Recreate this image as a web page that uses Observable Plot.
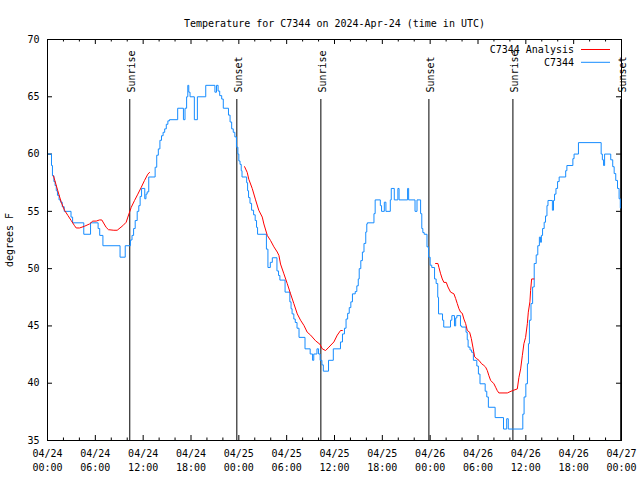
<!DOCTYPE html>
<html>
<head>
<meta charset="utf-8">
<script src="https://cdn.jsdelivr.net/npm/d3@7"></script>
<script src="https://cdn.jsdelivr.net/npm/@observablehq/plot@0.6"></script>
<style>
  html, body { margin: 0; padding: 0; background: #fff; }
</style>
</head>
<body>
<div id="chart"></div>
<script>
// ---- data (hours after 2024-04-24 00:00 UTC) ----
const titleText = "Temperature for C7344 on 2024-Apr-24 (time in UTC)";
const yLabel = "degrees F";
const legendLabels = ["C7344 Analysis", "C7344"];

const yTicks = [35, 40, 45, 50, 55, 60, 65, 70];
const xTickHours = [0, 6, 12, 18, 24, 30, 36, 42, 48, 54, 60, 66, 72];
const xTickDates = ["04/24", "04/24", "04/24", "04/24", "04/25", "04/25", "04/25", "04/25", "04/26", "04/26", "04/26", "04/26", "04/27"];
const xTickTimes = ["00:00", "06:00", "12:00", "18:00", "00:00", "06:00", "12:00", "18:00", "00:00", "06:00", "12:00", "18:00", "00:00"];

const sunLabels = ["Sunrise", "Sunset", "Sunrise", "Sunset", "Sunrise", "Sunset"];
const sunHours = [10.32, 23.75, 34.29, 47.84, 58.38, 71.9];

// observations (step readings): [hour, °F]
const obsPoints = [
  [0.05,60],[0.5,59],[0.62,58.1],[0.8,57.6],[0.95,57.25],[1.1,56.8],[1.25,56.4],[1.45,56.0],[1.65,55.8],[1.85,55.4],
  [2.1,55.0],[2.95,54.5],[3.15,54.0],[4.55,53.0],[5.4,54.0],[6.35,53.5],[6.55,52.9],[6.95,52.0],[9.1,51.0],[9.75,52.0],
  [10.4,52.5],[10.6,52.9],[10.8,53.5],[11.0,54.2],[11.25,55.0],[11.45,55.5],[11.62,56.3],[11.8,57.0],[12.2,56.1],[12.35,56.5],
  [12.5,56.7],[12.7,58.0],[13.5,58.85],[13.7,59.9],[13.9,60.45],[14.1,61.2],[14.3,61.6],[14.5,61.9],[14.7,62.2],[14.9,62.6],
  [15.1,62.9],[15.3,63.0],[16.33,64.0],[17.05,63.0],[17.25,64.0],[17.45,65.0],[17.6,66.0],[17.72,65.4],[17.88,65.0],[18.42,63.0],
  [18.8,65.0],[19.85,66.0],[21.0,65.4],[21.2,66.0],[21.4,65.5],[21.6,65.1],[21.85,64.8],[22.05,64.0],[22.7,63.4],[22.9,62.8],
  [23.1,62.2],[23.3,61.9],[23.5,61.5],[23.7,60.6],[23.88,60.0],[24.0,59.4],[24.15,59.1],[24.3,58.55],[24.4,58.0],[24.98,57.5],
  [25.1,56.8],[25.22,56.2],[25.4,55.7],[25.6,55.1],[25.85,54.7],[26.05,54.2],[26.22,53.6],[26.35,53.0],[27.46,51.7],[27.65,50.1],
  [27.95,50.55],[28.2,50.95],[28.78,49.8],[28.98,49.4],[29.15,49.0],[29.8,47.95],[30.4,47.1],[30.55,46.5],[30.68,46.05],[30.9,45.6],
  [31.08,45.3],[31.3,44.8],[31.55,44.0],[32.3,43.0],[32.95,42.55],[33.25,42.0],[33.4,42.55],[33.8,43.0],[34.0,42.55],[34.2,42.0],
  [34.42,41.6],[34.6,41.05],[35.25,42.0],[35.85,43.0],[36.75,43.6],[37.0,44.3],[37.25,44.8],[37.45,45.6],[37.65,46.1],[37.85,46.6],
  [38.05,47.1],[38.25,47.8],[38.6,48.0],[38.8,48.5],[38.98,49.1],[39.1,50.0],[39.3,50.7],[39.5,51.45],[39.7,52.2],[39.92,53.2],
  [40.05,53.9],[40.12,54.0],[40.95,54.8],[41.1,56.0],[41.75,55.5],[41.9,55.0],[42.25,55.8],[42.45,55.0],[43.0,56.0],[43.12,57.0],
  [43.5,56.0],[43.95,57.0],[44.1,56.0],[45.17,57.0],[45.3,56.0],[46.1,55.0],[46.35,56.0],[46.8,54.8],[46.95,53.5],[47.08,53.15],
  [47.25,53.0],[47.6,51.9],[47.8,51.0],[48.0,50.3],[48.2,50.1],[48.55,49.1],[48.75,48.7],[48.95,47.5],[49.05,46.05],[49.55,45.5],
  [49.7,44.9],[50.55,45.5],[50.72,45.9],[51.05,45.0],[51.2,45.7],[51.35,45.9],[51.8,45.0],[51.95,44.9],[52.5,44.45],[52.65,43.8],
  [52.76,43.15],[53.0,42.9],[53.2,42.7],[53.42,42.0],[53.85,41.5],[54.05,40.8],[54.25,39.95],[54.9,39.3],[55.1,38.8],[55.3,37.9],
  [56.15,37.0],[57.2,36.0],[57.6,36.9],[57.8,36.0],[59.62,37.3],[59.78,38.8],[60.0,39.95],[60.2,41.7],[60.33,43.45],[60.45,45.5],
  [60.65,46.95],[60.85,48.4],[61.05,50.45],[61.3,51.2],[61.5,52.0],[61.7,52.75],[61.85,52.3],[61.95,52.9],[62.1,53.5],[62.3,54.05],
  [62.47,54.6],[62.65,55.5],[62.78,55.95],[63.33,55.1],[63.47,55.95],[63.6,56.5],[63.78,57.0],[63.98,57.6],[64.18,58.0],[65.0,58.55],
  [65.15,59.0],[65.9,59.6],[66.05,60.0],[66.6,61.0],[69.45,60.0],[69.6,59.5],[69.75,59.0],[69.88,60.0],[70.65,59.5],[70.9,58.9],
  [71.08,58.3],[71.28,57.7],[71.5,57.0],[71.7,56.1],[71.85,55.3],[71.95,55.3]
];

// analysis runs
const ana1Hours = [0.75,1.29,1.72,2.13,2.55,2.97,3.39,3.6,4.02,4.64,5.27,5.68,6.11,6.52,6.81,7.36,7.65,8.32,8.74,9.45,9.87,10.08,10.5,10.92,11.33,11.76,12.17,12.59,12.8];
const ana1Temps = [58.1,56.8,55.8,55.1,54.65,54.2,53.75,53.55,53.55,53.7,53.9,54.15,54.15,54.25,54.25,53.6,53.4,53.35,53.35,53.75,54.05,54.5,55.35,55.95,56.5,57.1,57.7,58.25,58.4];
const ana2Hours = [24.72,25.05,25.25,25.68,26.1,26.5,26.94,27.14,27.57,27.98,28.4,28.82,29.03,29.23,29.65,30.07,30.49,30.9,31.33,31.74,32.16,32.58,33.0,33.63,34.17,34.47,34.88,35.3,35.92,36.35,36.76,36.98];
const ana2Temps = [58.9,58.4,57.8,57.0,56.0,55.1,54.5,53.9,52.9,52.45,51.9,51.45,51.15,50.4,49.55,48.7,47.8,46.95,46.05,45.5,45.05,44.45,44.2,43.7,43.4,43.0,42.85,43.15,43.6,44.2,44.6,44.6];
const ana3Hours = [48.68,48.97,49.1,49.31,49.52,49.72,50.02,50.23,50.56,50.98,51.19,51.4,51.61,51.82,52.03,52.23,52.45,52.66,52.95,53.16,53.36,53.58,53.83,54.12,54.45,54.74,54.96,55.17,55.37,55.58,56.0,56.21,56.42,56.62,57.68,58.31,58.93,59.13,59.35,59.56,59.76,59.97,60.19,60.31,60.51,60.6,60.73,61.02];
const ana3Temps = [50.45,50.45,50.1,49.55,49.1,48.8,48.8,48.4,47.95,47.8,47.4,46.95,46.5,46.2,46.1,45.6,45.2,44.6,44.45,43.9,43.15,42.3,42.15,42.0,41.7,41.55,41.4,41.1,40.65,40.25,39.95,39.65,39.35,39.15,39.15,39.35,39.5,40.5,41.25,42.4,43.45,44.0,45.2,46.2,47.1,48.1,49.1,49.1];

// ---- build tables ----
const T0 = Date.UTC(2024, 3, 24);
const toDate = h => new Date(T0 + h * 3600e3);

const obs = obsPoints.map(([h, v]) => ({t: toDate(h), v}));
const ana = [
  [ana1Hours, ana1Temps], [ana2Hours, ana2Temps], [ana3Hours, ana3Temps]
].flatMap(([hs, vs], s) => hs.map((h, i) => ({t: toDate(h), v: vs[i], seg: s})));
const sun = sunHours.map((h, i) => ({t: toDate(h), label: sunLabels[i]}));
const xTicks = xTickHours.map(toDate);
const xMinor = d3.range(0, 73, 2).filter(h => h % 6 !== 0).map(toDate);
const dateOf = new Map(xTicks.map((d, i) => [+d, xTickDates[i]]));
const timeOf = new Map(xTicks.map((d, i) => [+d, xTickTimes[i]]));

const FONT = "DejaVu Sans Mono, Liberation Mono, monospace";
const BLUE = "#168cff";
const RED = "#ff0000";
const W = 640, H = 480, ML = 47, MR = 19, MT = 39, MB = 40;
const FW = W - ML - MR, FH = H - MT - MB;

const plot = Plot.plot({
  width: W, height: H,
  marginLeft: ML, marginRight: MR, marginTop: MT, marginBottom: MB,
  style: {fontFamily: FONT, fontSize: "10px", background: "#fff", color: "#000", overflow: "visible"},
  x: {type: "utc", domain: [toDate(0), toDate(72)]},
  y: {domain: [35, 70]},
  marks: [
    // inward ticks
    Plot.tickY(yTicks, {y: d => d, insetRight: FW - 5, stroke: "#000"}),
    Plot.tickY(yTicks, {y: d => d, insetLeft: FW - 5, stroke: "#000"}),
    Plot.tickX(xTicks, {x: d => d, insetTop: FH - 5, stroke: "#000"}),
    Plot.tickX(xTicks, {x: d => d, insetBottom: FH - 5, stroke: "#000"}),
    Plot.tickX(xMinor, {x: d => d, insetTop: FH - 2.5, stroke: "#000"}),
    Plot.tickX(xMinor, {x: d => d, insetBottom: FH - 2.5, stroke: "#000"}),
    Plot.axisY({ticks: yTicks, tickSize: 0, tickPadding: 8, tickFormat: d => String(d),
      label: yLabel, labelAnchor: "center", labelArrow: "none", labelOffset: 42}),
    Plot.axisX({ticks: xTicks, tickSize: 0, tickPadding: 9, tickFormat: d => dateOf.get(+d), label: null}),
    Plot.axisX({ticks: xTicks, tickSize: 0, tickPadding: 23, tickFormat: d => timeOf.get(+d), label: null}),
    // sunrise / sunset
    Plot.ruleX(sun, {x: "t", insetTop: 60, stroke: "#000", strokeWidth: 1}),
    Plot.text(sun, {x: "t", text: "label", frameAnchor: "top", dy: 53, dx: -2, rotate: -90, textAnchor: "start", fill: "#000"}),
    // series
    Plot.line(obs, {x: "t", y: "v", curve: "step-after", stroke: BLUE, strokeWidth: 1}),
    Plot.line(ana, {x: "t", y: "v", z: "seg", stroke: RED, strokeWidth: 1}),
    Plot.frame({stroke: "#000"}),
    Plot.text([titleText], {text: d => d, frameAnchor: "top", dy: -20, fill: "#000"})
  ]
});

// legend (top-right, inside frame)
const svg = d3.select(plot);
const lg = svg.append("g").attr("font-family", FONT).attr("font-size", 10);
const legendColors = [RED, BLUE];
legendLabels.forEach((lab, i) => {
  const y = 49.5 + i * 12.8;
  lg.append("text").attr("x", 574).attr("y", y).attr("dy", "0.35em")
    .attr("text-anchor", "end").attr("fill", "#000").text(lab);
  lg.append("line").attr("x1", 581).attr("x2", 610).attr("y1", y).attr("y2", y)
    .attr("stroke", legendColors[i]).attr("stroke-width", 1);
});

document.getElementById("chart").appendChild(plot);
</script>
</body>
</html>
